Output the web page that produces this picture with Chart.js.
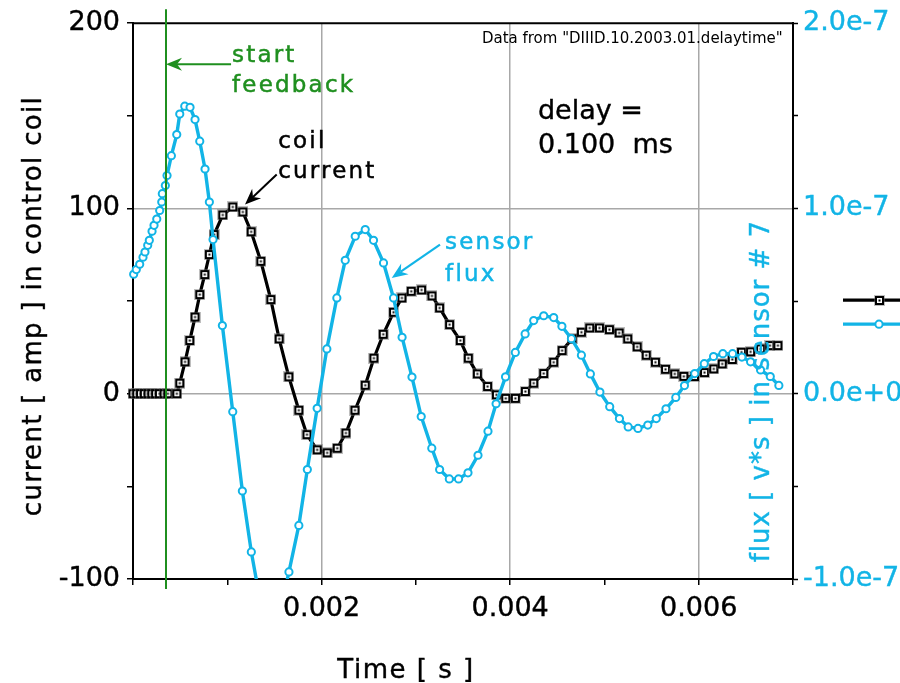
<!DOCTYPE html>
<html>
<head>
<meta charset="utf-8">
<script src="https://cdn.jsdelivr.net/npm/chart.js@4.4.1/dist/chart.umd.min.js"></script>
<style>
  html, body { margin: 0; padding: 0; background: #fff; }
  canvas { display: block; }
</style>
</head>
<body>
<canvas id="chart" width="900" height="683" style="width:900px;height:683px"></canvas>
<script>
// Coil current response [amp] and sensor #7 flux [v*s] after feedback is switched on.
const timeCoil = [
  0, 0.00004, 0.00008, 0.00012, 0.00016, 0.00020, 0.00024, 0.00028, 0.00033, 0.00037, 0.000465,
  0.000496, 0.000552, 0.000602, 0.000658, 0.000708, 0.000761, 0.000810, 0.000860, 0.000952, 0.001058,
  0.001165, 0.001253, 0.001356, 0.001462, 0.001550, 0.001653, 0.001759, 0.001845, 0.001953, 0.002059,
  0.002166, 0.002258, 0.002354, 0.002463, 0.002555, 0.002654, 0.002763, 0.002852, 0.002951, 0.003061,
  0.003171, 0.003252, 0.003358, 0.003471, 0.003556, 0.003652, 0.003761, 0.003854, 0.003954, 0.004055,
  0.004161, 0.004250, 0.004356, 0.004462, 0.004551, 0.004657, 0.004756, 0.004844, 0.004947, 0.005053,
  0.005156, 0.005247, 0.005347, 0.005443, 0.005541, 0.005648, 0.005746, 0.005842, 0.005955, 0.006062,
  0.006160, 0.006249, 0.006356, 0.006454, 0.006550, 0.006656, 0.006755, 0.006840
];
const coilCurrent = [
  0, 0, 0, 0, 0, 0, 0, 0, 0, 0, 0,
  5.7, 17.2, 28.7, 41.4, 53.5, 64.3, 75.1, 85.9, 96.5, 100.8,
  98.1, 87.4, 71.5, 50.8, 29.6, 9.1, -8.9, -22.1, -30.3, -31.9,
  -29.4, -21.2, -8.9, 4.6, 19.2, 32.1, 44.0, 51.7, 55.3, 56.0,
  52.8, 46.3, 37.3, 28.7, 19.2, 10.7, 3.9, -0.6, -2.5, -2.5,
  1.2, 5.7, 10.9, 17.0, 23.3, 29.6, 33.2, 35.5, 35.5, 34.6,
  32.8, 29.6, 25.3, 20.8, 17.0, 13.2, 10.7, 9.4, 9.3, 11.4,
  13.4, 16.1, 18.5, 22.4, 22.6, 24.2, 26.0, 26.0
];
const timeFlux = [
  0.000007, 0.000035, 0.000071, 0.000106, 0.000127, 0.000156, 0.000173, 0.000202, 0.000223, 0.000252,
  0.000283, 0.000305, 0.000311, 0.000343, 0.000361, 0.000407, 0.000464, 0.000496, 0.000549, 0.000605,
  0.000658, 0.000708, 0.000764, 0.000810, 0.000849, 0.000948, 0.001058, 0.001160, 0.001255, 0.001359,
  0.001476, 0.001571, 0.001654, 0.001759, 0.001849, 0.001953, 0.002056, 0.002162, 0.002251, 0.002357,
  0.002463, 0.002551, 0.002657, 0.002763, 0.002854, 0.002959, 0.003057, 0.003169, 0.003252, 0.003355,
  0.003453, 0.003553, 0.003659, 0.003765, 0.003851, 0.003951, 0.004055, 0.004159, 0.004250, 0.004356,
  0.004462, 0.004549, 0.004650, 0.004756, 0.004851, 0.004952, 0.005056, 0.005159, 0.005252, 0.005356,
  0.005460, 0.005550, 0.005653, 0.005757, 0.005849, 0.005958, 0.006059, 0.006157, 0.006256, 0.006359,
  0.006458, 0.006550, 0.006656, 0.006759, 0.006850
];
const sensorFlux = [
  6.45e-8, 6.70e-8, 6.99e-8, 7.37e-8, 7.65e-8, 8.01e-8, 8.28e-8, 8.77e-8, 9.09e-8, 9.43e-8,
  9.89e-8, 1.035e-7, 1.080e-7, 1.124e-7, 1.178e-7, 1.285e-7, 1.399e-7, 1.510e-7, 1.552e-7, 1.546e-7,
  1.480e-7, 1.363e-7, 1.213e-7, 1.035e-7, 8.32e-8, 3.68e-8, -9.7e-9, -5.25e-8, -8.54e-8, -1.147e-7,
  -1.282e-7, -1.147e-7, -9.62e-8, -7.11e-8, -4.09e-8, -7.9e-9, 2.42e-8, 5.17e-8, 7.20e-8, 8.50e-8,
  8.86e-8, 8.28e-8, 7.06e-8, 5.17e-8, 3.05e-8, 9.0e-9, -1.23e-8, -2.94e-8, -4.09e-8, -4.60e-8,
  -4.60e-8, -4.27e-8, -3.32e-8, -2.02e-8, -5.4e-9, 9.1e-9, 2.23e-8, 3.23e-8, 3.95e-8, 4.21e-8,
  4.11e-8, 3.64e-8, 2.97e-8, 2.08e-8, 1.07e-8, 9e-10, -7.0e-9, -1.34e-8, -1.79e-8, -1.87e-8,
  -1.69e-8, -1.34e-8, -8.1e-9, -2.0e-9, 4.4e-9, 1.09e-8, 1.62e-8, 2.01e-8, 2.16e-8, 2.16e-8,
  1.98e-8, 1.72e-8, 1.28e-8, 9.3e-9, 4.5e-9
];

// Axis tick labels
const timeLabels = [0.002, 0.004, 0.006];
const currentLabels = [200, 100, 0, -100];
const fluxLabels = [2e-7, 1e-7, 0, -1e-7];

const FEEDBACK_START = 0.00035; // s, feedback switched on
const SOURCE_NOTE = 'Data from "DIIID.10.2003.01.delaytime"';

const FONT = "'DejaVu Sans', Verdana, sans-serif";
const CYAN = '#12b4e6';
const GREEN = '#1f8f1f';
const GRID = '#a8a8a8';

const near = (a, b, tol) => Math.abs(a - b) < tol;

// square marker with a dot in the middle
function squareMarker() {
  const c = document.createElement('canvas');
  c.width = 11; c.height = 11;
  const g = c.getContext('2d');
  g.fillStyle = 'rgba(110,110,110,0.45)'; g.fillRect(0, 0, 11, 11);
  g.fillStyle = '#000'; g.fillRect(1, 1, 9, 9);
  g.fillStyle = '#fff'; g.fillRect(3, 3, 5, 5);
  g.fillStyle = '#000'; g.fillRect(4.5, 4.5, 2, 2);
  return c;
}
const SQUARE = squareMarker();

function arrow(ctx, x1, y1, x2, y2, color, lw) {
  const a = Math.atan2(y2 - y1, x2 - x1);
  const L = 16, W = 6.5, N = 5;
  ctx.save();
  ctx.strokeStyle = color; ctx.fillStyle = color; ctx.lineWidth = lw;
  ctx.beginPath();
  ctx.moveTo(x1, y1);
  ctx.lineTo(x2 - (L - N) * Math.cos(a), y2 - (L - N) * Math.sin(a));
  ctx.stroke();
  ctx.translate(x2, y2); ctx.rotate(a);
  ctx.beginPath();
  ctx.moveTo(0, 0); ctx.lineTo(-L, -W); ctx.lineTo(-L + N, 0); ctx.lineTo(-L, W);
  ctx.closePath(); ctx.fill();
  ctx.restore();
}

// text with a faint same-colour outline to give the heavier screen-font look
function text(ctx, str, px, py, size, color, spacing, align, heavy) {
  ctx.save();
  ctx.font = size + 'px ' + FONT;
  ctx.fillStyle = color;
  ctx.strokeStyle = color;
  ctx.lineWidth = heavy || 0;
  ctx.textAlign = align || 'left';
  ctx.textBaseline = 'alphabetic';
  ctx.letterSpacing = (spacing || 0) + 'px';
  ctx.fillText(str, px, py);
  if (heavy) ctx.strokeText(str, px, py);
  ctx.restore();
}

function rotatedText(ctx, str, px, py, size, color, spacing, heavy) {
  ctx.save();
  ctx.translate(px, py);
  ctx.rotate(-Math.PI / 2);
  text(ctx, str, 0, 0, size, color, spacing, 'center', heavy);
  ctx.restore();
}

const decorations = {
  id: 'decorations',
  afterDatasetsDraw(chart) {
    const { ctx, chartArea: a, scales: { x, y } } = chart;
    const X = v => x.getPixelForValue(v);
    const Y = v => y.getPixelForValue(v);

    // closing frame line along the top
    ctx.save();
    ctx.strokeStyle = '#000'; ctx.lineWidth = 2;
    ctx.beginPath(); ctx.moveTo(a.left - 1, a.top); ctx.lineTo(a.right + 1, a.top); ctx.stroke();

    // feedback start
    const gx = X(FEEDBACK_START);
    ctx.strokeStyle = GREEN; ctx.lineWidth = 2;
    ctx.beginPath(); ctx.moveTo(gx, a.top - 14); ctx.lineTo(gx, a.bottom + 10); ctx.stroke();
    ctx.restore();

    arrow(ctx, X(0.00104), Y(177.9), gx, Y(177.9), GREEN, 2);
    text(ctx, 'start', X(0.00105), Y(178.8), 23, GREEN, 2.2, 'left', 0.5);
    text(ctx, 'feedback', X(0.00105), Y(162.6), 23, GREEN, 2.2, 'left', 0.5);

    arrow(ctx, X(0.001524), Y(118.3), X(0.001188), Y(102.1), '#000', 2);
    text(ctx, 'coil', X(0.00154), Y(132.9), 23, '#000', 2.2, 'left', 0.5);
    text(ctx, 'current', X(0.00154), Y(116.7), 23, '#000', 2.2, 'left', 0.5);

    arrow(ctx, X(0.003256), Y(80.5), X(0.002744), Y(62.5), CYAN, 2.2);
    text(ctx, 'sensor', X(0.00331), Y(77.9), 23, CYAN, 2.2, 'left', 0.5);
    text(ctx, 'flux', X(0.00331), Y(60.6), 23, CYAN, 2.2, 'left', 0.5);

    text(ctx, 'delay =', X(0.004295), Y(148.1), 27, '#000', 0, 'left', 0.4);
    text(ctx, '0.100  ms', X(0.004295), Y(129.9), 27, '#000', 0, 'left', 0.4);

    text(ctx, SOURCE_NOTE, X(0.00689), Y(189.2), 15, '#000', 0, 'right');
  },
  afterDraw(chart) {
    const { ctx, chartArea: a } = chart;
    // axis titles
    rotatedText(ctx, 'current [ amp ] in control coil', a.left - 92, (a.top + a.bottom) / 2 + 5, 26, '#000', 1.3, 0.4);
    rotatedText(ctx, 'flux [ v*s ] in sensor # 7', a.right - 24, (a.top + a.bottom) / 2 + 90, 26, CYAN, 1.0, 0.4);
    text(ctx, 'Time [ s ]', a.left + 273, a.bottom + 99, 26, '#000', 1.5, 'center', 0.4);

    // series key
    const lx0 = a.right + 50, lx1 = chart.width, mx = a.right + 86;
    const ly1 = a.top + 277, ly2 = a.top + 301;
    ctx.save();
    ctx.lineWidth = 3.2;
    ctx.strokeStyle = '#000';
    ctx.beginPath(); ctx.moveTo(lx0, ly1); ctx.lineTo(lx1, ly1); ctx.stroke();
    ctx.drawImage(SQUARE, Math.round(mx - 5.5), Math.round(ly1 - 5.5));
    ctx.strokeStyle = CYAN;
    ctx.beginPath(); ctx.moveTo(lx0, ly2); ctx.lineTo(lx1, ly2); ctx.stroke();
    ctx.fillStyle = '#fff'; ctx.lineWidth = 2;
    ctx.beginPath(); ctx.arc(mx, ly2, 3.6, 0, Math.PI * 2); ctx.fill(); ctx.stroke();
    ctx.restore();
  }
};

const tickFont = { family: FONT, size: 27 };

new Chart(document.getElementById('chart'), {
  type: 'line',
  data: {
    datasets: [
      {
        label: 'sensor flux',
        data: timeFlux.map((t, i) => ({ x: t, y: sensorFlux[i] })),
        yAxisID: 'y2',
        borderColor: CYAN,
        borderWidth: 3.4,
        pointStyle: 'circle',
        pointRadius: 3.6,
        pointBorderWidth: 2,
        pointBackgroundColor: '#fff',
        pointBorderColor: CYAN,
        tension: 0,
        order: 1,
        clip: { left: 6, top: 6, right: 6, bottom: 0 }
      },
      {
        label: 'coil current',
        data: timeCoil.map((t, i) => ({ x: t, y: coilCurrent[i] })),
        yAxisID: 'y',
        borderColor: '#000',
        borderWidth: 3.2,
        pointStyle: SQUARE,
        pointRadius: 5,
        tension: 0,
        order: 2,
        clip: 6
      }
    ]
  },
  options: {
    responsive: false,
    animation: false,
    devicePixelRatio: 1,
    events: [],
    layout: { padding: { top: 21, left: 0, right: 0, bottom: 0 } },
    plugins: { legend: { display: false }, tooltip: { enabled: false } },
    scales: {
      x: {
        type: 'linear',
        min: 0, max: 0.007,
        afterFit: s => { s.height = 104; },
        border: { color: '#000', width: 2 },
        grid: {
          color: c => (c.tick && timeLabels.some(l => near(l, c.tick.value, 1e-9))) ? GRID : 'rgba(0,0,0,0)',
          lineWidth: 1.5, tickColor: '#000', tickWidth: 1.5, tickLength: 6
        },
        ticks: {
          stepSize: 0.001, autoSkip: false, maxRotation: 0, padding: 8,
          font: tickFont, color: '#000', textStrokeColor: '#000', textStrokeWidth: 0.4,
          callback: v => { const l = timeLabels.find(l => near(l, v, 1e-9)); return l === undefined ? '' : l.toFixed(3); }
        }
      },
      y: {
        position: 'left',
        min: -100, max: 200,
        afterFit: s => { s.width = 133; },
        border: { color: '#000', width: 2 },
        grid: {
          color: c => (c.tick && (c.tick.value === 100 || c.tick.value === 0)) ? GRID : 'rgba(0,0,0,0)',
          lineWidth: 1.5, tickColor: '#000', tickWidth: 1.5, tickLength: 6
        },
        ticks: {
          stepSize: 50, autoSkip: false, padding: 7,
          font: tickFont, color: '#000', textStrokeColor: '#000', textStrokeWidth: 0.4,
          callback: v => currentLabels.includes(v) ? String(v) : ''
        }
      },
      y2: {
        position: 'right',
        min: -1e-7, max: 2e-7,
        afterFit: s => { s.width = 107; },
        border: { color: '#000', width: 2 },
        grid: { drawOnChartArea: false, tickColor: '#000', tickWidth: 1.5, tickLength: 5 },
        ticks: {
          stepSize: 5e-8, autoSkip: false, padding: 5,
          font: tickFont, color: CYAN, textStrokeColor: CYAN, textStrokeWidth: 0.4,
          callback: v => { const l = fluxLabels.find(l => near(l, v, 1e-12)); return l === undefined ? '' : l.toExponential(1); }
        }
      }
    }
  },
  plugins: [decorations]
});
</script>
</body>
</html>
